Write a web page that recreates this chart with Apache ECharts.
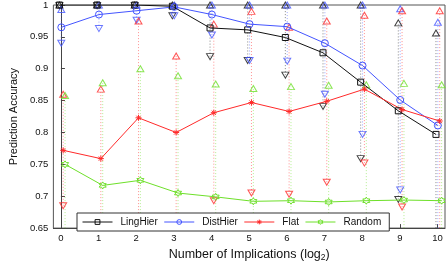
<!DOCTYPE html>
<html><head><meta charset="utf-8">
<script src="https://cdn.jsdelivr.net/npm/echarts@6/dist/echarts.min.js"></script>
<style>html,body{margin:0;padding:0;background:#fff}#c{width:447px;height:267px}</style>
</head><body><div id="c"></div>
<script>
const xTicks = [0,1,2,3,4,5,6,7,8,9,10];
const yTicks = [0.65,0.7,0.75,0.8,0.85,0.9,0.95,1];
const seriesNames = ['LingHier','DistHier','Flat','Random'];
const lingHier = [1.0,1.0,1.0,0.998,0.964,0.961,0.949,0.925,0.879,0.834,0.797];
const distHier = [0.965,0.985,0.991,0.997,0.985,0.970,0.966,0.940,0.905,0.851,0.811];
const flat     = [0.772,0.759,0.823,0.800,0.831,0.847,0.833,0.849,0.868,0.836,0.818];
const random   = [0.750,0.717,0.725,0.705,0.699,0.692,0.693,0.691,0.693,0.694,0.693];
// error range upper / lower (values below 0.65 are outside the plot)
const lingHierHi = [1,1,1,1,1,1,1,1,1,0.972,0.956];
const lingHierLo = [0.999,0.999,0.999,0.983,0.919,0.913,0.890,0.841,0.759,0.695,0.60];
const distHierHi = [0.993,1,1,1,1,1,1,1,1,0.994,0.973];
const distHierLo = [0.940,0.963,0.976,0.983,0.953,0.913,0.912,0.860,0.797,0.710,0.60];
const flatHi     = [0.860,0.868,0.975,0.920,0.970,0.990,0.965,0.975,0.984,0.991,0.991];
const flatLo     = [0.685,0.60,0.60,0.60,0.693,0.705,0.703,0.722,0.752,0.683,0.60];
const randomHi   = [0.858,0.878,0.900,0.889,0.876,0.869,0.872,0.874,0.875,0.877,0.875];
const randomLo   = [0.60,0.60,0.60,0.60,0.60,0.60,0.60,0.60,0.60,0.60,0.60];

const cfg = [
  {name:'LingHier', v:lingHier, hi:lingHierHi, lo:lingHierLo, color:'#111111', off:-0.04, symbol:'rect', size:6},
  {name:'DistHier', v:distHier, hi:distHierHi, lo:distHierLo, color:'#4455ff', off:0.01, symbol:'circle', size:7},
  {name:'Flat', v:flat, hi:flatHi, lo:flatLo, color:'#ff2a2a', off:0.06, symbol:'path://M0,-5L0,5M-5,0L5,0M-3.5,-3.5L3.5,3.5M-3.5,3.5L3.5,-3.5', size:6},
  {name:'Random', v:random, hi:randomHi, lo:randomLo, color:'#6ee02a', off:0.11, symbol:'path://M0,-10L2.9,-5L8.66,-5L5.8,0L8.66,5L2.9,5L0,10L-2.9,5L-8.66,5L-5.8,0L-8.66,-5L-2.9,-5Z', size:7}
];

const FONT = '"Liberation Sans", Arial, sans-serif';
const series = [];
cfg.forEach(c => {
  const data = xTicks.map((x,i) => [x + c.off, c.lo[i], c.hi[i]]);
  series.push({
    type:'custom', name:c.name+'_err', z:1, silent:true,
    data:data,
    renderItem:function(params, api){
      const x = api.value(0), lo = api.value(1), hi = api.value(2);
      const p1 = api.coord([x, lo]), p2 = api.coord([x, hi]);
      const cs = params.coordSys;
      const ymin = cs.y, ymax = cs.y + cs.height;
      const y1 = Math.min(Math.max(p1[1], ymin), ymax);
      const y2 = Math.min(Math.max(p2[1], ymin), ymax);
      return {type:'line', shape:{x1:p1[0], y1:y1, x2:p2[0], y2:y2},
        style:{stroke:c.color, lineWidth:1, lineDash:[1,2], opacity:0.5}};
    }
  });
  series.push({
    type:'scatter', name:c.name+'_hi', z:2, silent:true, clip:true,
    symbol:'triangle', symbolSize:[7,6],
    itemStyle:{color:'rgba(255,255,255,0)', borderColor:c.color, borderWidth:1},
    data:xTicks.map((x,i)=>[x + c.off, c.hi[i]])
  });
  series.push({
    type:'scatter', name:c.name+'_lo', z:2, silent:true, clip:true,
    symbol:'triangle', symbolRotate:180, symbolSize:[7,6],
    itemStyle:{color:'rgba(255,255,255,0)', borderColor:c.color, borderWidth:1},
    data:xTicks.map((x,i)=>[x + c.off, c.lo[i]])
  });
});
cfg.forEach(c => {
  series.push({
    type:'line', name:c.name, z:3, clip:true,
    symbol:c.symbol, symbolSize:c.size, showAllSymbol:true,
    lineStyle:{color:c.color, width:1},
    itemStyle:{color:'rgba(255,255,255,0)', borderColor:c.color, borderWidth:1},
    data:xTicks.map((x,i)=>[x + c.off, c.v[i]])
  });
});

const chart = echarts.init(document.getElementById('c'), null, {renderer:'canvas'});
chart.setOption({
  animation:false,
  backgroundColor:'#fff',
  grid:{left:43, right:2, top:4, bottom:27, show:true, borderColor:'#555', borderWidth:1, backgroundColor:'transparent'},
  legend:{
    data:seriesNames, left:77, top:213, orient:'horizontal',
    backgroundColor:'#fff', borderColor:'#333', borderWidth:1,
    padding:[4,8,4,5], itemGap:6, itemWidth:30, itemHeight:6,
    lineStyle:{width:1},
    itemStyle:{borderWidth:1},
    textStyle:{fontFamily:FONT, fontSize:10, color:'#111', padding:[0,0,0,3]}
  },
  xAxis:{
    type:'value', min:-0.2, max:10.2,
    name:'{a|Number of Implications (log}{s|2}{a|)}', nameLocation:'middle', nameGap:17,
    nameTextStyle:{rich:{a:{fontFamily:FONT, fontSize:12.5, color:'#111'}, s:{fontFamily:FONT, fontSize:8.5, color:'#111', verticalAlign:'bottom', padding:[6,0,0,0]}}},
    axisLine:{show:true, lineStyle:{color:'#444'}},
    axisTick:{show:true, inside:true, length:4, customValues:xTicks, lineStyle:{color:'#444'}},
    axisLabel:{customValues:xTicks, fontFamily:FONT, fontSize:9.5, color:'#111', margin:5},
    splitLine:{show:false}
  },
  yAxis:{
    type:'value', min:0.65, max:1, interval:0.05,
    name:'Prediction Accuracy', nameLocation:'middle', nameGap:31,
    nameTextStyle:{fontFamily:FONT, fontSize:11, color:'#111'},
    axisLine:{show:true, lineStyle:{color:'#444'}},
    axisTick:{show:true, inside:true, length:4, lineStyle:{color:'#444'}},
    axisLabel:{fontFamily:FONT, fontSize:9.5, color:'#111', margin:5,
      formatter:v=>String(+v.toFixed(2))},
    splitLine:{show:false}
  },
  series:series
});
</script></body></html>
